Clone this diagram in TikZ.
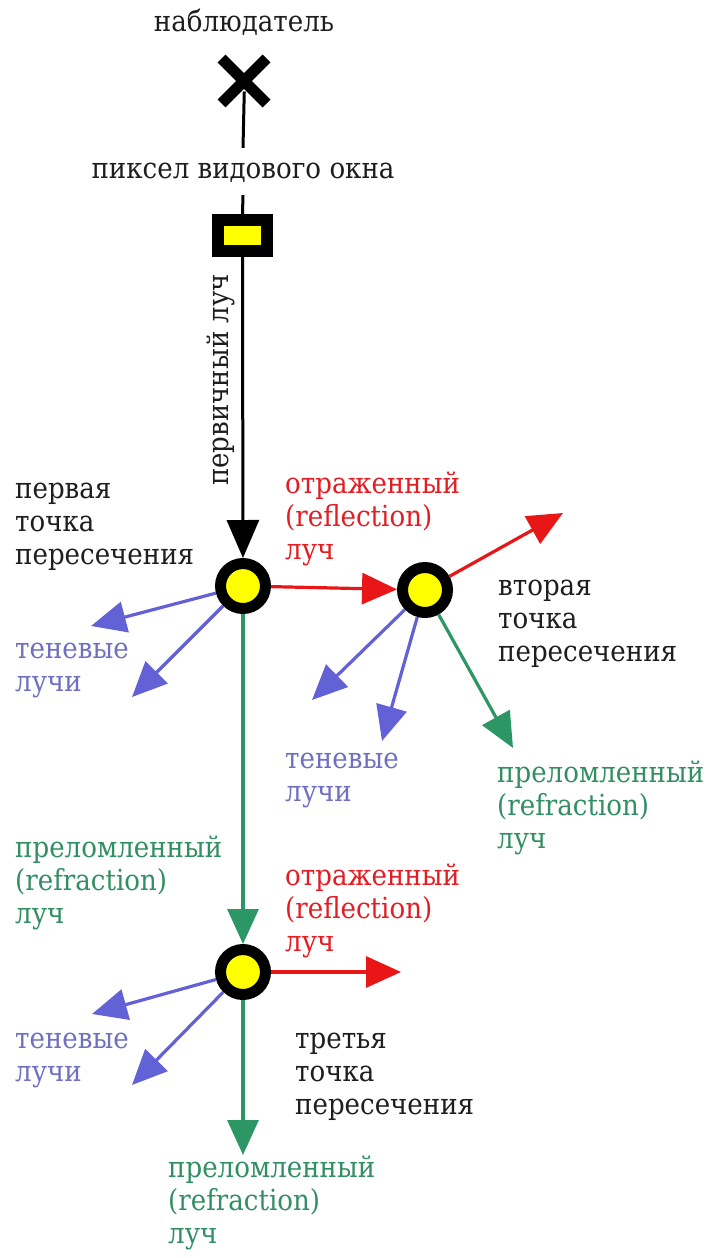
\documentclass[tikz,border=0pt]{standalone}
\usepackage{fontspec}
\setmainfont{DejaVu Serif Condensed}
\usetikzlibrary{arrows.meta,shapes.misc}
\definecolor{rayred}{RGB}{232,22,22}
\definecolor{txtred}{RGB}{226,30,36}
\definecolor{rayblue}{RGB}{98,98,214}
\definecolor{txtblue}{RGB}{112,112,190}
\definecolor{raygreen}{RGB}{44,150,100}
\definecolor{txtgreen}{RGB}{50,142,100}
\definecolor{txtblack}{RGB}{30,30,30}
\definecolor{dotyellow}{RGB}{255,255,0}
\begin{document}
\begin{tikzpicture}[x=1pt,y=-1pt,
  lbl/.style={font=\fontsize{29}{33}\selectfont, align=left, inner sep=0pt, anchor=north west},
  hit/.style={circle, draw=black, line width=11pt, fill=dotyellow, minimum size=45pt, inner sep=0pt},
  ray/.style={line width=3.2pt, -{Triangle[length=35pt,width=31pt]}},
  redray/.style={ray, draw=rayred, fill=rayred},
  blueray/.style={ray, draw=rayblue, fill=rayblue},
  greenray/.style={ray, draw=raygreen, fill=raygreen},
  blackray/.style={line width=3pt, draw=black, -{Triangle[length=38pt,width=32pt]}}
]
\path[use as bounding box] (0,0) rectangle (713,1258);

% observer and pixel
\node[font=\fontsize{29}{33}\selectfont, text=txtblack, anchor=base, inner sep=0pt] (obs) at (244,31) {наблюдатель};
\node[cross out, draw=black, line width=11pt, minimum size=34pt, inner sep=0pt] (eye) at (244,81) {};
\node[font=\fontsize{29}{33}\selectfont, text=txtblack, inner sep=7pt] (pix) at (243,171.5) {\strut пиксел видового окна};
\node[rectangle, draw=black, fill=dotyellow, line width=12pt, minimum width=49pt, minimum height=31pt, inner sep=0pt] (box) at (242.5,235.5) {};

% hit points
\node[hit] (c1) at (243,586) {};
\node[hit] (c2) at (425,590) {};
\node[hit] (c3) at (243,972) {};

% free ends
\coordinate (r2end) at (563,513);
\coordinate (r3end) at (401,972);
\coordinate (s1a) at (91,626);
\coordinate (s1b) at (132,697);
\coordinate (s2a) at (312,700);
\coordinate (s2b) at (382,741);
\coordinate (g2end) at (513,748);
\coordinate (s3a) at (92,1014);
\coordinate (s3b) at (132,1085);
\coordinate (g3end) at (243,1155);

% primary ray
\draw[line width=3pt, shorten <=-12pt] (eye.south) -- (pix.north);
\draw[line width=3pt] (pix.south) -- (box.north);
\draw[blackray] (box.south) -- (c1);
\node[font=\fontsize{29}{33}\selectfont, text=txtblack, rotate=90, anchor=base, inner sep=0pt] (prim) at (228,380) {первичный луч};

% rays from first hit
\draw[redray] (c1) -- (c2);
\draw[blueray] (c1) -- (s1a);
\draw[blueray] (c1) -- (s1b);
\draw[greenray] (c1) -- (c3);

% rays from second hit
\draw[redray] (c2) -- (r2end);
\draw[blueray] (c2) -- (s2a);
\draw[blueray] (c2) -- (s2b);
\draw[greenray] (c2) -- (g2end);

% rays from third hit
\draw[redray] (c3) -- (r3end);
\draw[blueray] (c3) -- (s3a);
\draw[blueray] (c3) -- (s3b);
\draw[greenray] (c3) -- (g3end);

% labels
\node[lbl, text=txtblack] (l1) at (15,475) {\strut первая\\точка\\пересечения};
\node[lbl, text=txtred] (rf1) at (285,470) {\strut отраженный\\(reflection)\\луч};
\node[lbl, text=txtblack] (l2) at (498,572) {\strut вторая\\точка\\пересечения};
\node[lbl, text=txtblue] (sh1) at (15,635) {\strut теневые\\лучи};
\node[lbl, text=txtblue] (sh2) at (285,745) {\strut теневые\\лучи};
\node[lbl, text=txtgreen] (rr2) at (497,759) {\strut преломленный\\(refraction)\\луч};
\node[lbl, text=txtgreen] (rr1) at (15,834) {\strut преломленный\\(refraction)\\луч};
\node[lbl, text=txtred] (rf2) at (285,862) {\strut отраженный\\(reflection)\\луч};
\node[lbl, text=txtblue] (sh3) at (15,1025) {\strut теневые\\лучи};
\node[lbl, text=txtblack] (l3) at (295,1025) {\strut третья\\точка\\пересечения};
\node[lbl, text=txtgreen] (rr3) at (168,1154) {\strut преломленный\\(refraction)\\луч};
\end{tikzpicture}
\end{document}
